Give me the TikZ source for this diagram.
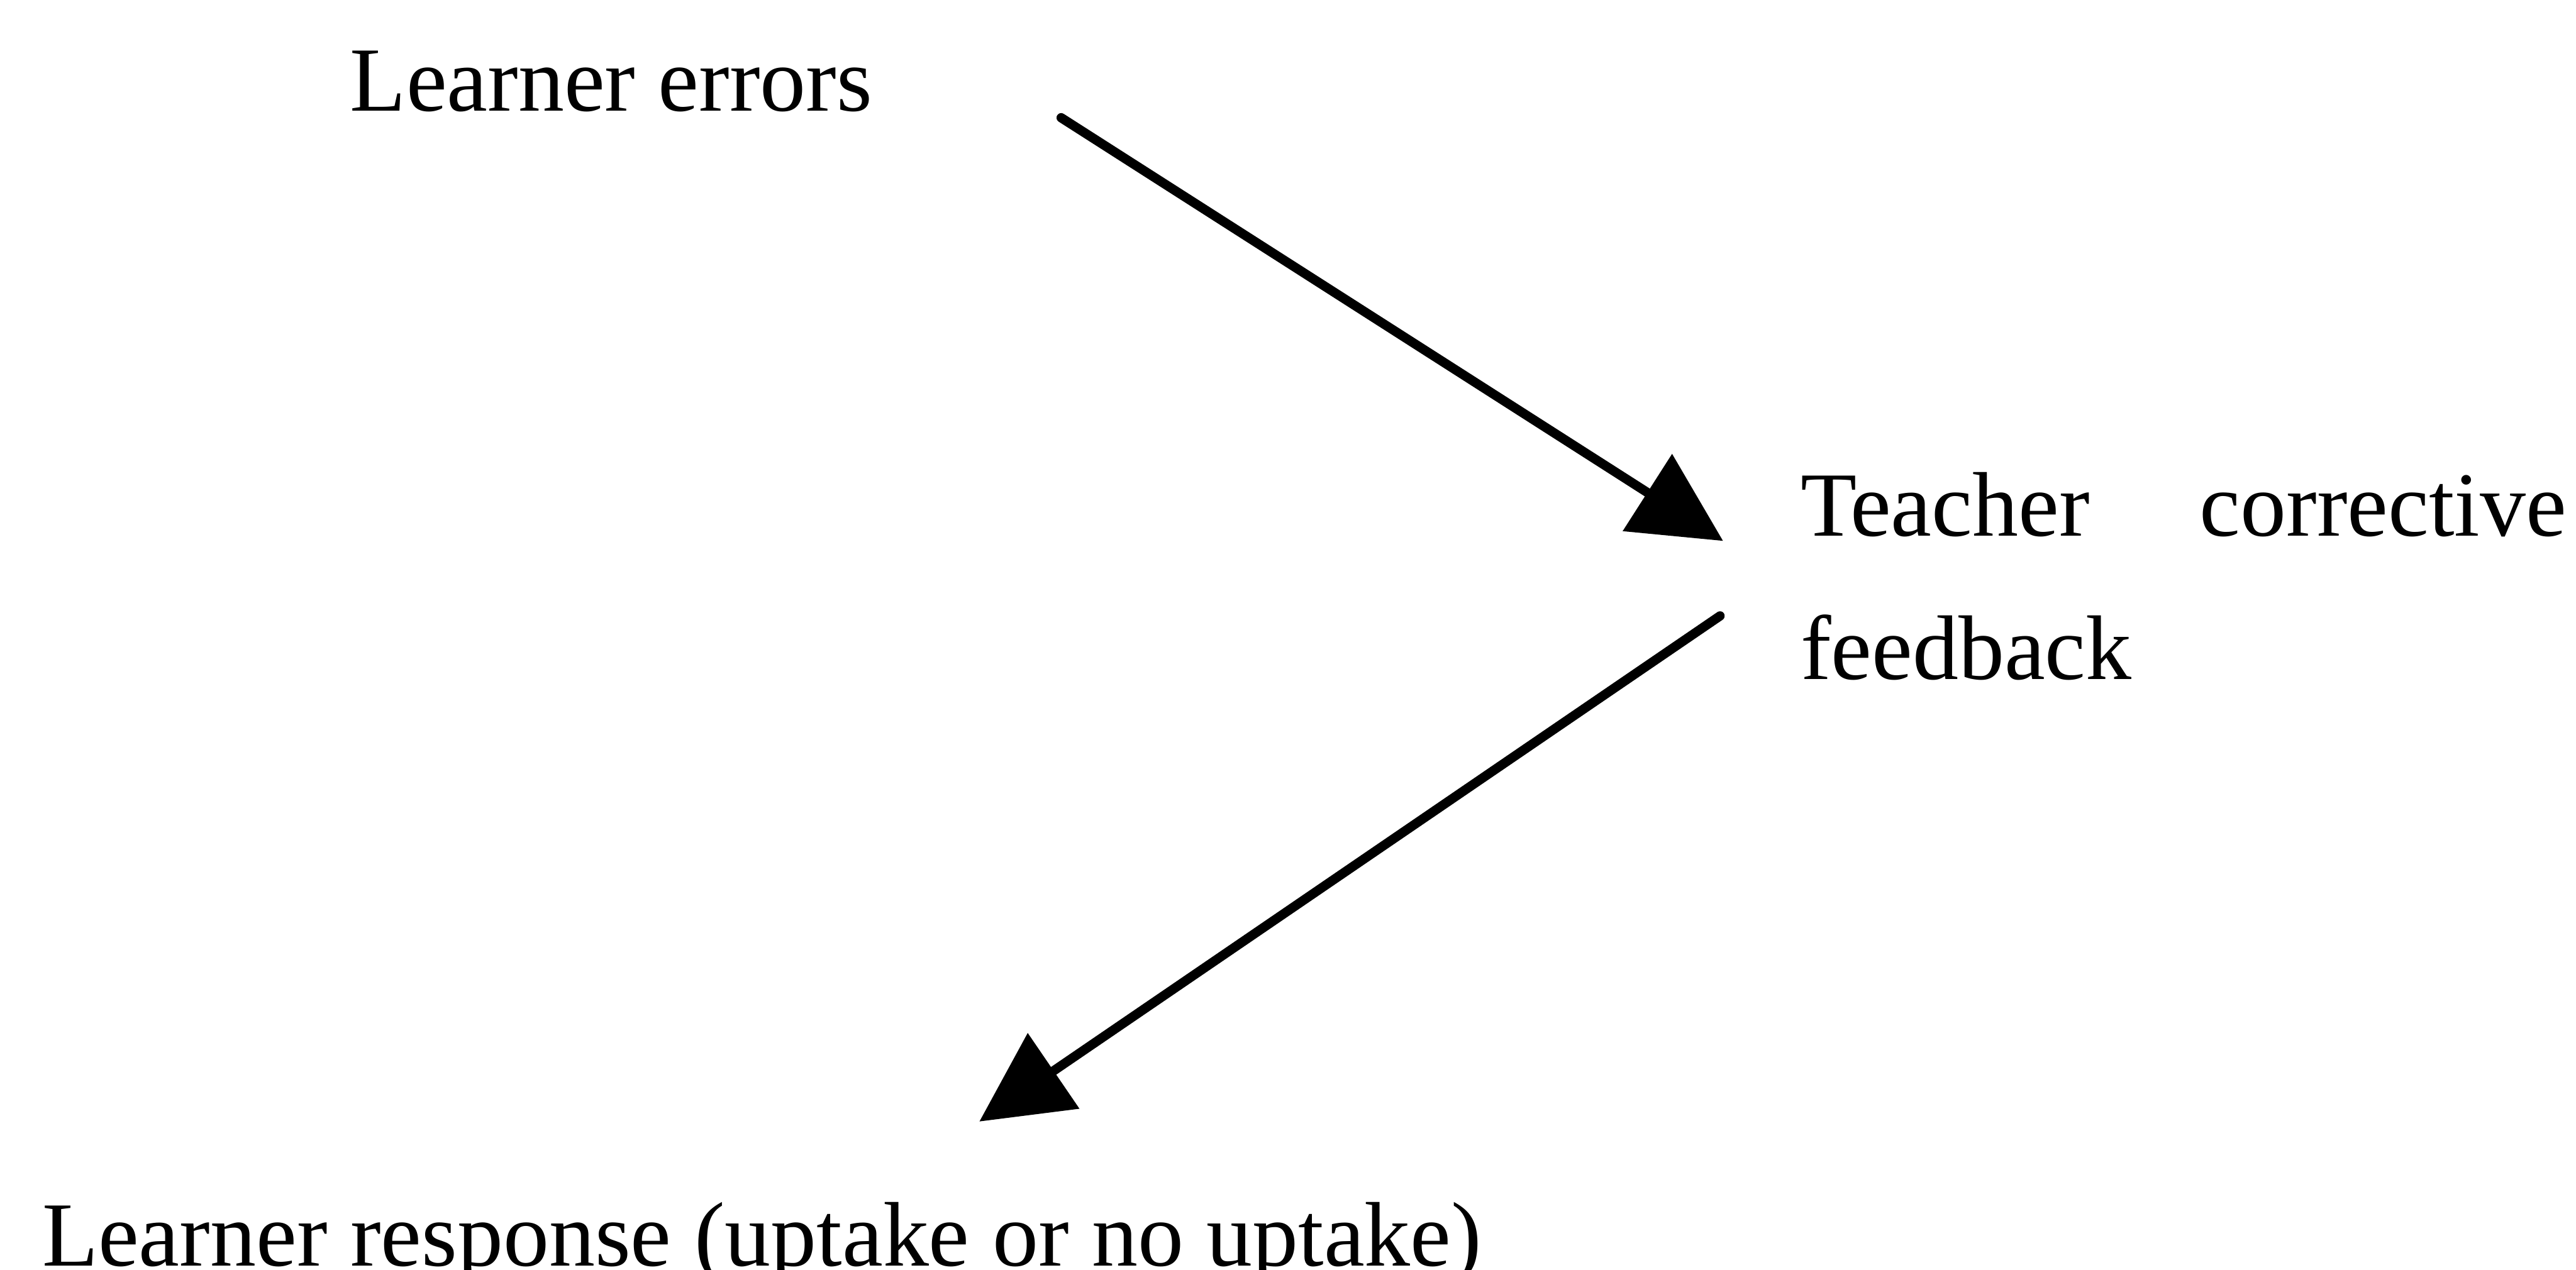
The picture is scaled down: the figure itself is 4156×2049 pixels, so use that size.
\documentclass[tikz,border=0pt]{standalone}
\usepackage{fontspec}
\setmainfont{Liberation Serif}
\usetikzlibrary{arrows.meta}
\begin{document}
\begin{tikzpicture}[x=0.01cm,y=-0.01cm,
  labeltext/.style={inner sep=0pt, outer sep=0pt,
    font=\fontsize{42.1pt}{50pt}\selectfont},
  flow/.style={line width=0.15cm, line cap=round,
    -{Triangle[length=1.45cm,width=1.44cm]}}]
\useasboundingbox[fill=white] (0,0) rectangle (4156,2049);
% stages of the feedback sequence
\node[labeltext, anchor=base west] (errors) at (565,179) {Learner errors};
\node[labeltext, anchor=base west] (teacher) at (2905,865)
  {\makebox[12.35cm][l]{Teacher\hfill corrective}};
\node[labeltext, anchor=base west] (feedback) at (2905,1096) {feedback};
\node[labeltext, anchor=base west] (response) at (68,2043)
  {Learner response (uptake or no uptake)};
% arrow end points
\coordinate (e-out) at (1712,190);
\coordinate (t-in) at (2780,873);
\coordinate (t-out) at (2775,994);
\coordinate (r-in) at (1580,1810);
\draw[flow] (e-out) -- (t-in);
\draw[flow] (t-out) -- (r-in);
\end{tikzpicture}
\end{document}
